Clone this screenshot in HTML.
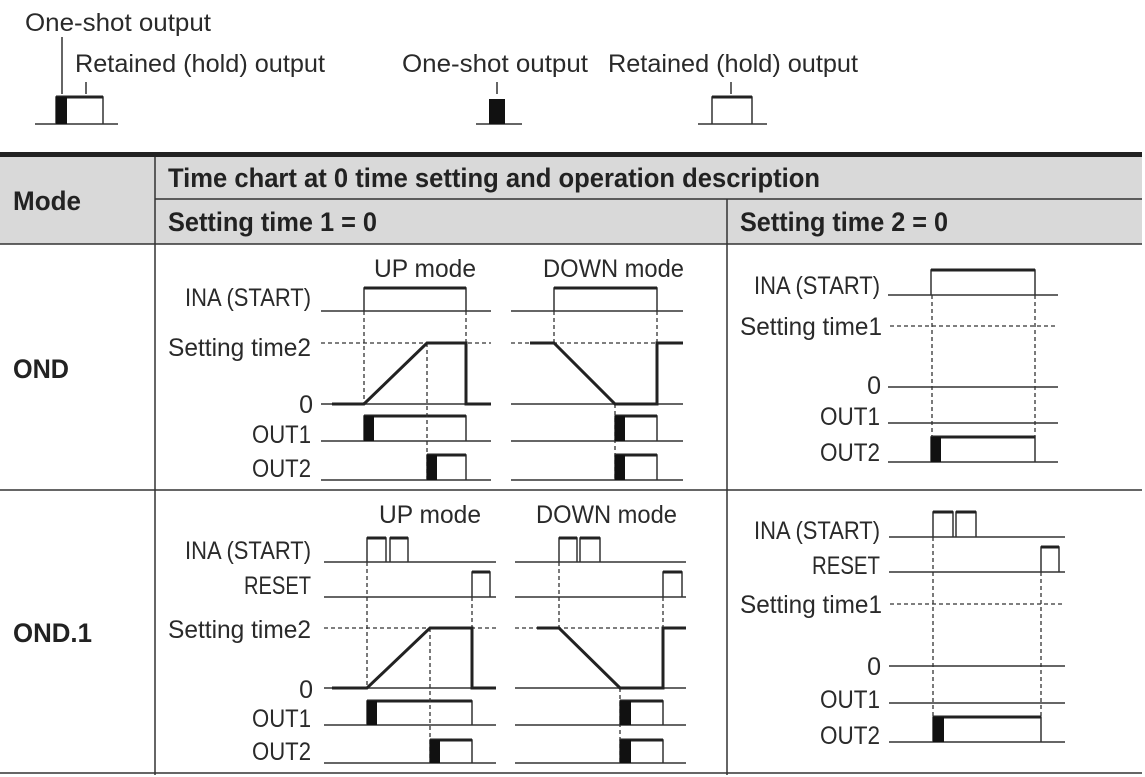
<!DOCTYPE html>
<html><head><meta charset="utf-8"><style>
html,body{margin:0;padding:0;background:#fff;}
svg{display:block;}
text{font-family:"Liberation Sans","Noto Sans CJK JP",sans-serif;fill:#2a2a2a;}
.l{font-size:25px;}
.b{font-size:27px;font-weight:bold;fill:#222;}
.thin{stroke:#333;stroke-width:1.5;fill:none;}
.thk{stroke:#222;stroke-width:3;fill:none;}
.d{stroke:#333;stroke-width:1.3;stroke-dasharray:4 3;fill:none;}
</style></head><body>
<svg width="1145" height="777" viewBox="0 0 1145 777" xmlns="http://www.w3.org/2000/svg">
<text class="l" x="25" y="31" textLength="186" lengthAdjust="spacingAndGlyphs">One-shot output</text>
<text class="l" x="75" y="72" textLength="250" lengthAdjust="spacingAndGlyphs">Retained (hold) output</text>
<text class="l" x="402" y="72" textLength="186" lengthAdjust="spacingAndGlyphs">One-shot output</text>
<text class="l" x="608" y="72" textLength="250" lengthAdjust="spacingAndGlyphs">Retained (hold) output</text>
<path class="thin" d="M62 37 V94 M86 82 V94 M497 82 V94 M731 82 V94"/>
<path class="thin" d="M35 124 H118 M56 124 V97 H103 V124 M476 124 H522 M698 124 H767 M712 124 V97 H752 V124"/>
<path class="thk" d="M56 97 H103 M712 97 H752"/>
<rect x="56" y="97" width="11" height="27" fill="#111"/>
<rect x="489" y="99" width="16" height="25" fill="#111"/>

<rect x="0" y="157" width="1142" height="87" fill="#d9d9d9"/>
<rect x="0" y="152" width="1142" height="5" fill="#222"/>
<path stroke="#333" stroke-width="1.5" fill="none" d="M155 157 V775 M727 199 V775 M155 199 H1142 M0 244 H1142 M0 490 H1142 M0 773 H1142"/>
<text class="b" x="168" y="187" textLength="652" lengthAdjust="spacingAndGlyphs">Time chart at 0 time setting and operation description</text>
<text class="b" x="13" y="210" textLength="68" lengthAdjust="spacingAndGlyphs">Mode</text>
<text class="b" x="168" y="231" textLength="209" lengthAdjust="spacingAndGlyphs">Setting time 1 = 0</text>
<text class="b" x="740" y="231" textLength="208" lengthAdjust="spacingAndGlyphs">Setting time 2 = 0</text>
<text class="b" x="13" y="378" textLength="56" lengthAdjust="spacingAndGlyphs">OND</text>
<text class="b" x="13" y="642" textLength="79" lengthAdjust="spacingAndGlyphs">OND.1</text>

<g text-anchor="end">
<text class="l" x="476" y="277" textLength="102" lengthAdjust="spacingAndGlyphs">UP mode</text>
<text class="l" x="684" y="277" textLength="141" lengthAdjust="spacingAndGlyphs">DOWN mode</text>
<text class="l" x="311" y="306" textLength="126" lengthAdjust="spacingAndGlyphs">INA (START)</text>
<text class="l" x="311" y="356" textLength="143" lengthAdjust="spacingAndGlyphs">Setting time2</text>
<text class="l" x="313" y="413">0</text>
<text class="l" x="311" y="443" textLength="59" lengthAdjust="spacingAndGlyphs">OUT1</text>
<text class="l" x="311" y="477" textLength="59" lengthAdjust="spacingAndGlyphs">OUT2</text>
</g>
<path class="thin" d="M321 311 H491 M511 311 H683 M321 404 H491 M511 404 H683 M321 441 H491 M511 441 H683 M321 480 H491 M511 480 H683"/>
<path class="thin" d="M364 311 V288 H466 V311 M554 311 V288 H657 V311 M364 441 V416 H466 V441 M615 441 V416 H657 V441 M427 480 V455 H466 V480 M615 480 V455 H657 V480"/>
<path class="thk" d="M364 288 H466 M554 288 H657 M364 416 H466 M615 416 H657 M427 455 H466 M615 455 H657"/>
<path class="d" d="M321 343 H491 M511 343 H683 M364 311 V404 M466 311 V343 M427 343 V480 M554 311 V343 M657 311 V343 M615 404 V480"/>
<path class="thk" d="M332 404 H364 L427 343 H466 V404 H491 M530 343 H554 L615 404 H657 V343 H683"/>
<rect x="364" y="416" width="10" height="25" fill="#111"/>
<rect x="615" y="416" width="10" height="25" fill="#111"/>
<rect x="427" y="455" width="10" height="25" fill="#111"/>
<rect x="615" y="455" width="10" height="25" fill="#111"/>

<g text-anchor="end">
<text class="l" x="880" y="294" textLength="126" lengthAdjust="spacingAndGlyphs">INA (START)</text>
<text class="l" x="882" y="335" textLength="142" lengthAdjust="spacingAndGlyphs">Setting time1</text>
<text class="l" x="881" y="394">0</text>
<text class="l" x="880" y="425" textLength="60" lengthAdjust="spacingAndGlyphs">OUT1</text>
<text class="l" x="880" y="461" textLength="60" lengthAdjust="spacingAndGlyphs">OUT2</text>
</g>
<path class="thin" d="M888 295 H1058 M888 387 H1058 M888 423 H1058 M888 462 H1058 M931 295 V270 H1035 V295 M931 462 V437 H1035 V462"/>
<path class="thk" d="M931 270 H1035 M931 437 H1035"/>
<path class="d" d="M890 326 H1056 M932 295 V437 M1035 295 V437"/>
<rect x="931" y="437" width="10" height="25" fill="#111"/>

<g text-anchor="end">
<text class="l" x="481" y="523" textLength="102" lengthAdjust="spacingAndGlyphs">UP mode</text>
<text class="l" x="677" y="523" textLength="141" lengthAdjust="spacingAndGlyphs">DOWN mode</text>
<text class="l" x="311" y="559" textLength="126" lengthAdjust="spacingAndGlyphs">INA (START)</text>
<text class="l" x="311" y="594" textLength="67" lengthAdjust="spacingAndGlyphs">RESET</text>
<text class="l" x="311" y="638" textLength="143" lengthAdjust="spacingAndGlyphs">Setting time2</text>
<text class="l" x="313" y="698">0</text>
<text class="l" x="311" y="727" textLength="59" lengthAdjust="spacingAndGlyphs">OUT1</text>
<text class="l" x="311" y="760" textLength="59" lengthAdjust="spacingAndGlyphs">OUT2</text>
</g>
<path class="thin" d="M324 562 H496 M515 562 H686 M324 597 H496 M515 597 H686 M324 688 H496 M515 688 H686 M324 725 H496 M515 725 H686 M324 763 H496 M515 763 H686"/>
<path class="thin" d="M367 562 V538 H386 V562 M390 562 V538 H408 V562 M559 562 V538 H577 V562 M580 562 V538 H600 V562 M472 597 V572 H490 V597 M663 597 V572 H682 V597 M367 725 V701 H472 V725 M620 725 V701 H663 V725 M430 763 V740 H472 V763 M620 763 V740 H663 V763"/>
<path class="thk" d="M367 538 H386 M390 538 H408 M559 538 H577 M580 538 H600 M472 572 H490 M663 572 H682 M367 701 H472 M620 701 H663 M430 740 H472 M620 740 H663"/>
<path class="d" d="M324 628 H496 M515 628 H686 M367 562 V688 M472 597 V628 M430 628 V763 M559 562 V628 M663 597 V628 M620 688 V763"/>
<path class="thk" d="M332 688 H367 L430 628 H472 V688 H496 M537 628 H559 L620 688 H663 V628 H686"/>
<rect x="367" y="701" width="10" height="24" fill="#111"/>
<rect x="620" y="701" width="11" height="24" fill="#111"/>
<rect x="430" y="740" width="10" height="23" fill="#111"/>
<rect x="620" y="740" width="11" height="23" fill="#111"/>

<g text-anchor="end">
<text class="l" x="880" y="539" textLength="126" lengthAdjust="spacingAndGlyphs">INA (START)</text>
<text class="l" x="880" y="574" textLength="68" lengthAdjust="spacingAndGlyphs">RESET</text>
<text class="l" x="882" y="613" textLength="142" lengthAdjust="spacingAndGlyphs">Setting time1</text>
<text class="l" x="881" y="675">0</text>
<text class="l" x="880" y="708" textLength="60" lengthAdjust="spacingAndGlyphs">OUT1</text>
<text class="l" x="880" y="744" textLength="60" lengthAdjust="spacingAndGlyphs">OUT2</text>
</g>
<path class="thin" d="M889 537 H1065 M889 572 H1065 M889 666 H1065 M889 703 H1065 M889 742 H1065 M933 537 V512 H953 V537 M956 537 V512 H976 V537 M1041 572 V547 H1059 V572 M933 742 V717 H1041 V742"/>
<path class="thk" d="M933 512 H953 M956 512 H976 M1041 547 H1059 M933 717 H1041"/>
<path class="d" d="M890 604 H1063 M933 537 V717 M1041 572 V717"/>
<rect x="933" y="717" width="11" height="25" fill="#111"/>
</svg>
</body></html>
